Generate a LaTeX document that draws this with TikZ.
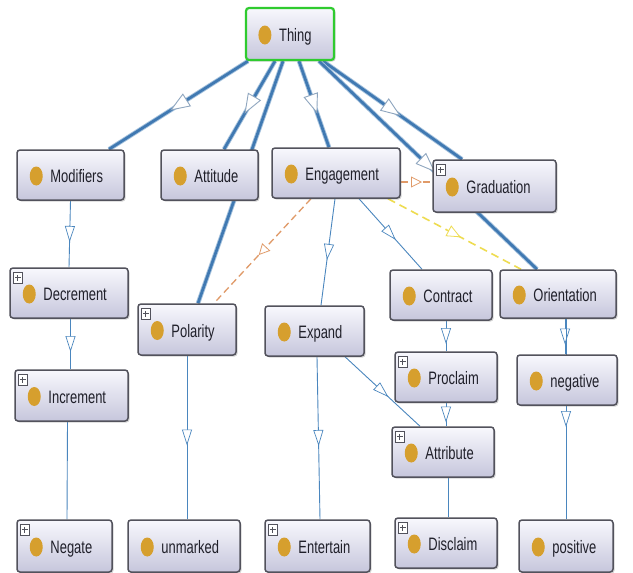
\documentclass[tikz,border=0pt]{standalone}
\usepackage{fontspec}
\newfontfamily\lblfont[FakeStretch=0.72]{Liberation Sans}
\usetikzlibrary{arrows.meta,decorations.markings,shadows,calc}
\pgfdeclarelayer{bg}
\pgfsetlayers{bg,main}
\definecolor{nodetop}{HTML}{F8F8FD}
\definecolor{nodebot}{HTML}{C6C6DC}
\definecolor{nodeborder}{HTML}{52525C}
\definecolor{icongold}{HTML}{D69F2E}
\definecolor{thickblue}{HTML}{4079B2}
\definecolor{thickhalo}{HTML}{A5C2DD}
\definecolor{thinblue}{HTML}{4A86BE}
\definecolor{tipgray}{HTML}{8FA6BF}
\definecolor{dashorange}{HTML}{E09A68}
\definecolor{dashyellow}{HTML}{EEDC50}
\definecolor{thinggreen}{HTML}{2FCB2F}
\definecolor{labelcol}{HTML}{20202A}
\tikzset{
  obox/.style={draw=nodeborder, line width=1.5pt, rounded corners=3pt,
    top color=nodetop, bottom color=nodebot, inner sep=0pt,
    drop shadow={shadow xshift=1.5pt, shadow yshift=-1.5pt, opacity=0.35}},
  thingstyle/.style={draw=thinggreen, line width=2.2pt},
  plainstyle/.style={},
  lbl/.style={anchor=base west, inner sep=0pt, text=labelcol,
    font=\lblfont\fontsize{18}{21}\selectfont},
  plusbox/.style={draw=nodeborder, line width=0.6pt},
  bigedge/.style={draw=thickblue, line width=2.7pt,
    preaction={draw=thickhalo, line width=4.5pt}},
  smalledge/.style={draw=thinblue, line width=0.9pt},
  orangedge/.style={draw=dashorange, line width=1.3pt, dash pattern=on 7pt off 4pt},
  yellowedge/.style={draw=dashyellow, line width=1.6pt, dash pattern=on 8pt off 5pt},
  bigtip/.style={postaction={decorate, decoration={markings, mark=at position 0.5 with
    {\arrow[xshift=10pt]{Triangle[length=20pt, width=15pt, color=tipgray, fill=white, line width=0.9pt]}}}}},
  smalltip/.style={postaction={decorate, decoration={markings, mark=at position 0.5 with
    {\arrow[xshift=8pt]{Triangle[length=16pt, width=10pt, color=thinblue, fill=white, line width=0.7pt]}}}}},
  orangetip/.style={postaction={decorate, decoration={markings, mark=at position 0.5 with
    {\arrow[xshift=5.5pt]{Triangle[length=11pt, width=11pt, color=dashorange, fill=white, line width=0.8pt]}}}}},
  yellowtip/.style={postaction={decorate, decoration={markings, mark=at position 0.5 with
    {\arrow[xshift=7pt]{Triangle[length=14pt, width=12pt, color=dashyellow, fill=white, line width=0.8pt]}}}}},
}
% name, cx, cy, w, h, label, plus, extra style
\newcommand\onode[8]{%
  \node[obox, #8, minimum width=#4pt, minimum height=#5pt] (#1) at (#2,#3) {};
  \fill[icongold] ($(#1.west)+(20,1)$) ellipse (6.5pt and 9.5pt);
  \node[lbl] at ($(#1.west)+(34,7.5)$) {#6};
  \ifnum#7=1
    \draw[plusbox, fill=white] ($(#1.north west)+(4,5)$) rectangle ++(9,11);
    \draw[plusbox] ($(#1.north west)+(8.5,7.5)$) -- ++(0,6) ($(#1.north west)+(5.5,10.5)$) -- ++(6,0);
  \fi
}
\begin{document}
\begin{tikzpicture}[x=1pt, y=-1pt]
\useasboundingbox (0,0) rectangle (633,573);
\begin{pgfonlayer}{bg}
\fill[white] (0,0) rectangle (633,573);
\end{pgfonlayer}

\onode{thing}{290}{34}{88}{52}{Thing}{0}{thingstyle}
\onode{modifiers}{70.5}{175}{107}{50}{Modifiers}{0}{plainstyle}
\onode{attitude}{209.5}{175}{97}{50}{Attitude}{0}{plainstyle}
\onode{engagement}{336}{173}{128}{50}{Engagement}{0}{plainstyle}
\onode{graduation}{494.5}{186}{123}{52}{Graduation}{1}{plainstyle}
\onode{decrement}{69}{293}{118}{50}{Decrement}{1}{plainstyle}
\onode{polarity}{187}{329.5}{98}{51}{Polarity}{1}{plainstyle}
\onode{expand}{314.5}{331}{99}{50}{Expand}{0}{plainstyle}
\onode{contract}{441}{295}{102}{50}{Contract}{0}{plainstyle}
\onode{orientation}{558}{294}{116}{48}{Orientation}{0}{plainstyle}
\onode{increment}{71.5}{395.5}{113}{51}{Increment}{1}{plainstyle}
\onode{proclaim}{446}{377}{102}{50}{Proclaim}{1}{plainstyle}
\onode{negative}{567}{380}{100}{50}{negative}{0}{plainstyle}
\onode{attribute}{443}{452}{102}{50}{Attribute}{1}{plainstyle}
\onode{negate}{64.5}{546}{95}{52}{Negate}{1}{plainstyle}
\onode{unmarked}{184}{546}{112}{52}{unmarked}{0}{plainstyle}
\onode{entertain}{317.5}{546}{105}{52}{Entertain}{1}{plainstyle}
\onode{disclaim}{446}{543}{102}{50}{Disclaim}{1}{plainstyle}
\onode{positive}{566}{546}{94}{52}{positive}{0}{plainstyle}

\begin{pgfonlayer}{bg}
% from Thing
\draw[bigedge,bigtip] ([xshift=-42pt]thing.south) -- ([xshift=38.5pt]modifiers.north);
\draw[bigedge,bigtip] ([xshift=-15pt]thing.south) -- ([xshift=14.5pt]attitude.north);
\draw[bigedge,bigtip] ([xshift=-7pt]thing.south) -- ([xshift=11pt]polarity.north);
\draw[bigedge,bigtip] ([xshift=9pt]thing.south) -- ([xshift=-7pt]engagement.north);
\draw[bigedge,bigtip] ([xshift=33pt]thing.south) -- ([xshift=-32.5pt]graduation.north);
\draw[bigedge,bigtip] ([xshift=29pt]thing.south) -- ([xshift=-21pt]orientation.north);
% from Engagement
\draw[smalledge,smalltip] ([xshift=-1pt]engagement.south) -- ([xshift=6.5pt]expand.north);
\draw[smalledge,smalltip] ([xshift=23pt]engagement.south) -- ([xshift=-19pt]contract.north);
\draw[orangedge,orangetip] ([xshift=-25pt]engagement.south) -- ([xshift=27pt]polarity.north);
\draw[yellowedge,yellowtip] ([xshift=52pt]engagement.south) -- ([xshift=-37pt]orientation.north);
\draw[orangedge,orangetip] ($(engagement.east)+(0,9)$) -- ($(graduation.west)+(0,-4)$);
% others
\draw[smalledge,smalltip] (modifiers.south) -- (decrement.north);
\draw[smalledge,smalltip] ([xshift=1.5pt]decrement.south) -- ([xshift=-1pt]increment.north);
\draw[smalledge] ([xshift=-4pt]increment.south) -- ([xshift=2.5pt]negate.north);
\draw[smalledge,smalltip] (polarity.south) -- ([xshift=3pt]unmarked.north);
\draw[smalledge,smalltip] ([xshift=2.5pt]expand.south) -- ([xshift=2.5pt]entertain.north);
\draw[smalledge,smalltip] ([xshift=30.5pt]expand.south) -- ([xshift=-23pt]attribute.north);
\draw[smalledge,smalltip] ([xshift=5pt]contract.south) -- (proclaim.north);
\draw[smalledge,smalltip] (proclaim.south) -- ([xshift=3pt]attribute.north);
\draw[smalledge] ([xshift=5pt]attribute.south) -- ([xshift=2pt]disclaim.north);
\draw[smalledge,smalltip] ([xshift=7pt]orientation.south) -- ([xshift=-2pt]negative.north);
\draw[smalledge,smalltip] ([xshift=8pt]orientation.south) -- (positive.north);
\end{pgfonlayer}
\end{tikzpicture}
\end{document}
